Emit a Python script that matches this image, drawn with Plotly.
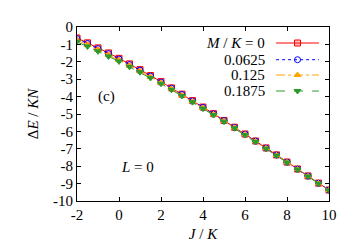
import plotly.graph_objects as go

J = [-2, -1.5, -1, -0.5, 0, 0.5, 1, 1.5, 2, 2.5, 3, 3.5, 4, 4.5, 5, 5.5, 6, 6.5, 7, 7.5, 8, 8.5, 9, 9.5, 10]
E_M0 = [-0.63, -0.91, -1.20, -1.49, -1.80, -2.12, -2.45, -2.79, -3.14, -3.50, -3.86, -4.23, -4.60,
        -4.98, -5.37, -5.76, -6.15, -6.55, -6.95, -7.35, -7.76, -8.16, -8.56, -8.97, -9.37]
E_M1 = [-0.67, -0.95, -1.24, -1.53, -1.84, -2.16, -2.48, -2.82, -3.17, -3.52, -3.88, -4.25, -4.62,
        -5.00, -5.38, -5.77, -6.16, -6.56, -6.96, -7.36, -7.77, -8.17, -8.57, -8.98, -9.37]
E_M2 = [-0.75, -1.03, -1.32, -1.61, -1.91, -2.22, -2.54, -2.87, -3.21, -3.56, -3.92, -4.28, -4.65,
        -5.03, -5.41, -5.79, -6.18, -6.58, -6.97, -7.37, -7.78, -8.18, -8.58, -8.99, -9.38]
E_M3 = [-0.85, -1.12, -1.40, -1.69, -1.98, -2.29, -2.60, -2.93, -3.26, -3.61, -3.96, -4.32, -4.69,
        -5.06, -5.44, -5.82, -6.21, -6.60, -6.99, -7.39, -7.79, -8.19, -8.59, -9.00, -9.39]
labels = ["<i>M</i> / <i>K</i> = 0", "0.0625", "0.125", "0.1875"]
x_ticks = [-2, 0, 2, 4, 6, 8, 10]
y_ticks = [0, -1, -2, -3, -4, -5, -6, -7, -8, -9, -10]

styles = [
    dict(color="#ff0000", dash="solid", symbol="square", fill="rgba(255,0,0,0.25)", size=6),
    dict(color="#0000ff", dash="dot", symbol="circle-open", fill="#0000ff", size=6),
    dict(color="#ffa500", dash="dashdot", symbol="triangle-up", fill="#ffa500", size=6),
    dict(color="#2e9a2e", dash="dash", symbol="triangle-down", fill="#2e9a2e", size=6),
]
series = [E_M0, E_M1, E_M2, E_M3]

fig = go.Figure()
font = "Liberation Serif"

for ys, st in zip(series, styles):
    fig.add_trace(go.Scatter(
        x=J, y=ys, mode="lines+markers", showlegend=False,
        line=dict(color=st["color"], dash=st["dash"], width=1),
        marker=dict(symbol=st["symbol"], size=st["size"], color=st["fill"],
                    line=dict(color=st["color"], width=1)),
    ))

# manual legend (text on the left, sample on the right), on an overlay axis
leg_y = [0.908, 0.812, 0.724, 0.632]
for lab, st, yy in zip(labels, styles, leg_y):
    fig.add_trace(go.Scatter(
        x=[0.79, 0.96], y=[yy, yy], mode="lines", xaxis="x2", yaxis="y2", showlegend=False,
        line=dict(color=st["color"], dash=st["dash"], width=1), hoverinfo="skip"))
    fig.add_trace(go.Scatter(
        x=[0.875], y=[yy], mode="markers", xaxis="x2", yaxis="y2", showlegend=False,
        marker=dict(symbol=st["symbol"], size=st["size"], color=st["fill"],
                    line=dict(color=st["color"], width=1)), hoverinfo="skip"))
    fig.add_annotation(x=0.755, y=yy, xref="x2", yref="y2", text=lab, showarrow=False,
                       xanchor="right", yanchor="middle", font=dict(family=font, size=15, color="black"))

fig.add_annotation(x=0.075, y=0.6, xref="x2", yref="y2", text="(c)", showarrow=False,
                   xanchor="left", yanchor="middle", font=dict(family=font, size=15, color="black"))
fig.add_annotation(x=0.165, y=0.195, xref="x2", yref="y2", text="<i>L</i> = 0", showarrow=False,
                   xanchor="left", yanchor="middle", font=dict(family=font, size=15, color="black"))

axis_common = dict(showline=True, linecolor="black", linewidth=1, mirror="ticks",
                   ticks="inside", ticklen=4, tickcolor="black", showgrid=False, zeroline=False,
                   tickfont=dict(family=font, size=15, color="black"))

fig.update_layout(
    width=350, height=245,
    margin=dict(l=69, r=29, t=19, b=52),
    plot_bgcolor="white", paper_bgcolor="white",
    font=dict(family=font),
    xaxis=dict(range=[-2, 10], tickvals=x_ticks, ticktext=[str(v) for v in x_ticks],
               title=dict(text="<i>J</i> / <i>K</i>", font=dict(family=font, size=15, color="black"), standoff=6),
               **axis_common),
    yaxis=dict(range=[-10, 0], tickvals=y_ticks, ticktext=[str(v) for v in y_ticks],
               title=dict(text="Δ<i>E</i> / <i>KN</i>", font=dict(family=font, size=15, color="black"), standoff=10),
               **axis_common),
    xaxis2=dict(range=[0, 1], overlaying="x", visible=False, fixedrange=True),
    yaxis2=dict(range=[0, 1], overlaying="y", visible=False, fixedrange=True),
)

fig.write_html("out.html")
